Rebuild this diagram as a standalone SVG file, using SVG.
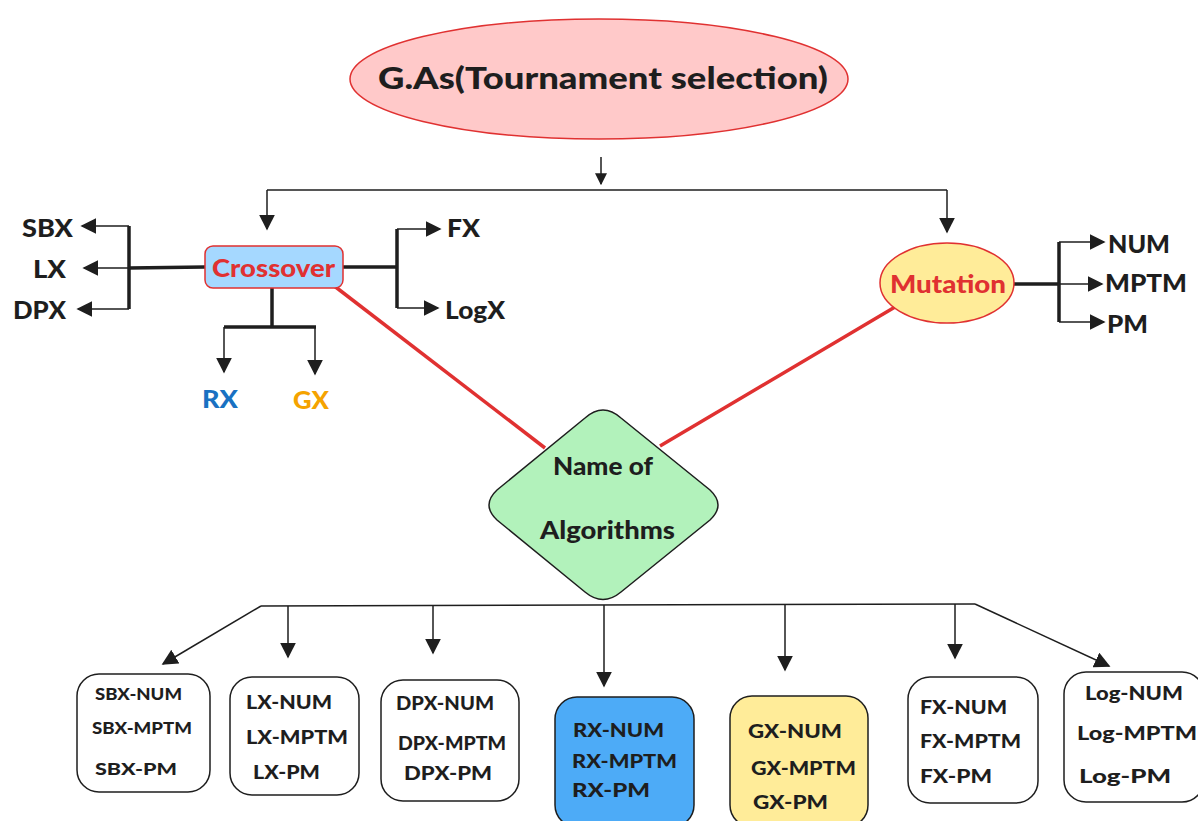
<svg xmlns="http://www.w3.org/2000/svg" width="1198" height="821" viewBox="0 0 1198 821">
<defs>
<marker id="ah" viewBox="0 0 10 10" refX="9" refY="5" markerWidth="12" markerHeight="12" markerUnits="userSpaceOnUse" orient="auto">
<path d="M0,0 L10,5 L0,10 z" fill="#1e1e1e"/>
</marker>
<marker id="ahb" viewBox="0 0 10 10" refX="9" refY="5" markerWidth="16" markerHeight="16" markerUnits="userSpaceOnUse" orient="auto">
<path d="M0,0 L10,5 L0,10 z" fill="#1e1e1e"/>
</marker>
</defs>
<style>
text{font-family:Lato,"Open Sans","Liberation Sans",sans-serif;font-weight:900;fill:#1e1e1e;dominant-baseline:central}
.thin{stroke:#1e1e1e;stroke-width:1.5;fill:none}
.arr{stroke:#1e1e1e;stroke-width:1.5;fill:none;marker-end:url(#ah)}
.arrb{stroke:#1e1e1e;stroke-width:1.5;fill:none;marker-end:url(#ahb)}
.thick{stroke:#1e1e1e;stroke-width:3.5;fill:none}
.red{stroke:#e03131;stroke-width:3.5;fill:none}
.box{stroke:#1e1e1e;stroke-width:1.5}
.lbl{font-size:24px}
.sm{font-size:17px}
.md{font-size:19px}
</style>
<rect width="1198" height="821" fill="#ffffff"/>

<g id="connectors">
<line class="arr" x1="601" y1="157" x2="601" y2="184"/>
<polyline class="thin" points="267,190 947,190"/>
<line class="arrb" x1="267" y1="190" x2="267" y2="229"/>
<line class="arrb" x1="947" y1="190" x2="947" y2="232"/>
<line class="thick" x1="205" y1="267" x2="129" y2="268"/>
<line class="thick" x1="129" y1="226" x2="129" y2="309"/>
<line class="arrb" x1="129" y1="226" x2="82" y2="226"/>
<line class="arrb" x1="129" y1="268" x2="84" y2="268"/>
<line class="arrb" x1="129" y1="309" x2="78" y2="309"/>
<line class="thick" x1="343" y1="267" x2="397" y2="267"/>
<line class="thick" x1="397" y1="229" x2="397" y2="308"/>
<line class="arrb" x1="397" y1="229" x2="440" y2="229"/>
<line class="arrb" x1="397" y1="308" x2="438" y2="308"/>
<line class="thick" x1="272" y1="288" x2="272" y2="327"/>
<line class="thick" x1="224" y1="327" x2="316" y2="327"/>
<line class="arrb" x1="224" y1="327" x2="224" y2="372"/>
<line class="arrb" x1="315" y1="327" x2="315" y2="374"/>
<line class="thick" x1="1014" y1="284" x2="1059" y2="284"/>
<line class="thick" x1="1059" y1="242" x2="1059" y2="322"/>
<line class="arrb" x1="1059" y1="242" x2="1104" y2="242"/>
<line class="arrb" x1="1059" y1="284" x2="1102" y2="284"/>
<line class="arrb" x1="1059" y1="322" x2="1104" y2="322"/>
<line class="red" x1="333" y1="285" x2="545" y2="448"/>
<line class="red" x1="895" y1="307" x2="660" y2="446"/>
<line class="thin" x1="261" y1="606" x2="975" y2="604"/>
<line class="arrb" x1="261" y1="606" x2="163" y2="664"/>
<line class="arrb" x1="288" y1="606" x2="288" y2="657"/>
<line class="arrb" x1="433" y1="606" x2="433" y2="653"/>
<line class="arrb" x1="604" y1="605" x2="604" y2="686"/>
<line class="arrb" x1="785" y1="605" x2="785" y2="670"/>
<line class="arrb" x1="955" y1="604" x2="955" y2="658"/>
<line class="arrb" x1="975" y1="604" x2="1109" y2="666"/>
</g>

<g id="title">
<ellipse cx="599" cy="79" rx="249" ry="60" fill="#ffc9c9" stroke="#e03131" stroke-width="1.5"/>
<text x="378" y="77" style="font-size:31px" textLength="450" lengthAdjust="spacingAndGlyphs">G.As(Tournament selection)</text>
</g>

<g id="crossover">
<rect x="205" y="246" width="138" height="42" rx="8" fill="#a5d8ff" stroke="#e03131" stroke-width="1.5"/>
<text x="212" y="267" class="lbl" style="fill:#e03131" textLength="123" lengthAdjust="spacingAndGlyphs">Crossover</text>
</g>

<g id="sbx"><text x="22" y="227" class="lbl" textLength="51" lengthAdjust="spacingAndGlyphs">SBX</text></g>
<g id="lx"><text x="33" y="268" class="lbl" textLength="33" lengthAdjust="spacingAndGlyphs">LX</text></g>
<g id="dpx"><text x="13" y="309" class="lbl" textLength="53" lengthAdjust="spacingAndGlyphs">DPX</text></g>
<g id="fx"><text x="447" y="227" class="lbl" textLength="33" lengthAdjust="spacingAndGlyphs">FX</text></g>
<g id="logx"><text x="445" y="309" class="lbl" textLength="60" lengthAdjust="spacingAndGlyphs">LogX</text></g>
<g id="rx"><text x="202" y="398" class="lbl" style="fill:#1971c2" textLength="36" lengthAdjust="spacingAndGlyphs">RX</text></g>
<g id="gx"><text x="293" y="399" class="lbl" style="fill:#f5a300" textLength="36" lengthAdjust="spacingAndGlyphs">GX</text></g>

<g id="mutation">
<ellipse cx="947" cy="283" rx="67" ry="40" fill="#ffec99" stroke="#e03131" stroke-width="1.5"/>
<text x="890" y="283" class="lbl" style="fill:#e03131" textLength="116" lengthAdjust="spacingAndGlyphs">Mutation</text>
</g>
<g id="num"><text x="1108" y="243" class="lbl" textLength="62" lengthAdjust="spacingAndGlyphs">NUM</text></g>
<g id="mptm"><text x="1105" y="282" class="lbl" textLength="82" lengthAdjust="spacingAndGlyphs">MPTM</text></g>
<g id="pm"><text x="1107" y="323" class="lbl" textLength="41" lengthAdjust="spacingAndGlyphs">PM</text></g>

<g id="algorithms">
<path d="M585,418 Q603,402 621,418 L710,490 Q726,505 710,520 L621,592 Q603,607 585,592 L497,520 Q481,505 497,490 Z" fill="#b2f2bb" stroke="#1e1e1e" stroke-width="1.5"/>
<text x="553" y="465" class="lbl" textLength="100" lengthAdjust="spacingAndGlyphs">Name of</text>
<text x="540" y="529" class="lbl" textLength="135" lengthAdjust="spacingAndGlyphs">Algorithms</text>
</g>

<g id="box-sbx">
<rect class="box" x="77" y="674" width="133" height="118" rx="22" fill="#ffffff"/>
<text x="95" y="693" class="sm" textLength="87" lengthAdjust="spacingAndGlyphs">SBX-NUM</text>
<text x="92" y="727" class="sm" textLength="100" lengthAdjust="spacingAndGlyphs">SBX-MPTM</text>
<text x="95" y="768" class="sm" textLength="82" lengthAdjust="spacingAndGlyphs">SBX-PM</text>
</g>
<g id="box-lx">
<rect class="box" x="230" y="677" width="129" height="118" rx="22" fill="#ffffff"/>
<text x="246" y="701" class="md" textLength="86" lengthAdjust="spacingAndGlyphs">LX-NUM</text>
<text x="246" y="736" class="md" textLength="102" lengthAdjust="spacingAndGlyphs">LX-MPTM</text>
<text x="253" y="771" class="md" textLength="67" lengthAdjust="spacingAndGlyphs">LX-PM</text>
</g>
<g id="box-dpx">
<rect class="box" x="381" y="680" width="138" height="121" rx="22" fill="#ffffff"/>
<text x="396" y="702" class="md" textLength="98" lengthAdjust="spacingAndGlyphs">DPX-NUM</text>
<text x="398" y="742" class="md" textLength="108" lengthAdjust="spacingAndGlyphs">DPX-MPTM</text>
<text x="404" y="772" class="md" textLength="88" lengthAdjust="spacingAndGlyphs">DPX-PM</text>
</g>
<g id="box-rx">
<rect class="box" x="555" y="697" width="139" height="130" rx="22" fill="#4dabf7"/>
<text x="573" y="729" class="md" textLength="91" lengthAdjust="spacingAndGlyphs">RX-NUM</text>
<text x="572" y="760" class="md" textLength="105" lengthAdjust="spacingAndGlyphs">RX-MPTM</text>
<text x="572" y="789" class="md" textLength="78" lengthAdjust="spacingAndGlyphs">RX-PM</text>
</g>
<g id="box-gx">
<rect class="box" x="730" y="696" width="138" height="131" rx="22" fill="#ffec99"/>
<text x="748" y="730" class="md" textLength="94" lengthAdjust="spacingAndGlyphs">GX-NUM</text>
<text x="751" y="767" class="md" textLength="105" lengthAdjust="spacingAndGlyphs">GX-MPTM</text>
<text x="753" y="801" class="md" textLength="75" lengthAdjust="spacingAndGlyphs">GX-PM</text>
</g>
<g id="box-fx">
<rect class="box" x="908" y="677" width="130" height="126" rx="22" fill="#ffffff"/>
<text x="920" y="706" class="md" textLength="87" lengthAdjust="spacingAndGlyphs">FX-NUM</text>
<text x="920" y="740" class="md" textLength="101" lengthAdjust="spacingAndGlyphs">FX-MPTM</text>
<text x="920" y="775" class="md" textLength="72" lengthAdjust="spacingAndGlyphs">FX-PM</text>
</g>
<g id="box-log">
<rect class="box" x="1064" y="672" width="140" height="130" rx="22" fill="#ffffff"/>
<text x="1085" y="692" class="md" textLength="98" lengthAdjust="spacingAndGlyphs">Log-NUM</text>
<text x="1077" y="732" class="md" textLength="120" lengthAdjust="spacingAndGlyphs">Log-MPTM</text>
<text x="1079" y="775" class="md" textLength="92" lengthAdjust="spacingAndGlyphs">Log-PM</text>
</g>
</svg>
